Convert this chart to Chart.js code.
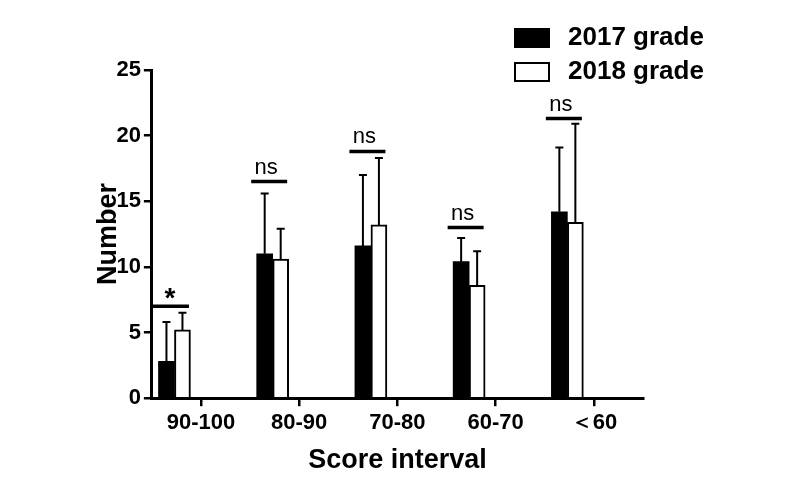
<!DOCTYPE html>
<html>
<head>
<meta charset="utf-8">
<script src="https://cdn.jsdelivr.net/npm/chart.js@4"></script>
<style>
  html, body { margin: 0; background: #fff; }
  #wrap { width: 800px; height: 497px; }
</style>
</head>
<body>
<div id="wrap"><canvas id="chart"></canvas></div>
<script>
const categories = ['90-100', '80-90', '70-80', '60-70', '＜60'];
const seriesNames = ['2017 grade', '2018 grade'];
const mean2017 = [2.8, 11.0, 11.6, 10.4, 14.2];
const sd2017 = [3.0, 4.6, 5.4, 1.8, 4.9];
const mean2018 = [5.2, 10.6, 13.2, 8.6, 13.4];
const sd2018 = [1.3, 2.3, 5.1, 2.6, 7.5];
const sigLevels = [7.0, 16.5, 18.8, 13.0, 21.3];
const sigLabels = ['*', 'ns', 'ns', 'ns', 'ns'];

const FONT = "'Liberation Sans', Arial, sans-serif";
const GROUP_SHIFT = -0.27; // the bar pair sits left of its tick, as in the original

Chart.defaults.color = '#000';
Chart.defaults.font.family = FONT;

// upward-only error bars with a cap
const errorBars = {
    id: 'errorBars',
    afterDatasetsDraw(chart) {
        const ctx = chart.ctx;
        const y = chart.scales.y;
        ctx.save();
        ctx.strokeStyle = '#000';
        ctx.lineWidth = 2;
        chart.data.datasets.forEach((ds, d) => {
            chart.getDatasetMeta(d).data.forEach((bar, i) => {
                const top = y.getPixelForValue(ds.data[i].y + ds.errors[i]);
                ctx.beginPath();
                ctx.moveTo(bar.x, bar.y);
                ctx.lineTo(bar.x, top);
                ctx.moveTo(bar.x - 4, top);
                ctx.lineTo(bar.x + 4, top);
                ctx.stroke();
            });
        });
        ctx.restore();
    }
};

// significance bars with "*" / "ns" above each pair
const sigMarks = {
    id: 'sigMarks',
    afterDatasetsDraw(chart) {
        const ctx = chart.ctx;
        const y = chart.scales.y;
        const a = chart.getDatasetMeta(0).data;
        const b = chart.getDatasetMeta(1).data;
        ctx.save();
        ctx.strokeStyle = '#000';
        ctx.fillStyle = '#000';
        ctx.lineWidth = 3.5;
        ctx.textAlign = 'center';
        sigLevels.forEach((lvl, i) => {
            const left = a[i].x - a[i].width / 2;
            const right = b[i].x + b[i].width / 2;
            const cx = (left + right) / 2 - 3.5;
            const ly = y.getPixelForValue(lvl);
            ctx.beginPath();
            ctx.moveTo(cx - 18, ly);
            ctx.lineTo(cx + 18, ly);
            ctx.stroke();
            if (sigLabels[i] === '*') {
                ctx.font = 'bold 28px ' + FONT;
                ctx.fillText('*', cx - 1, ly + 1);
            } else {
                ctx.font = '22px ' + FONT;
                ctx.fillText(sigLabels[i], cx - 3, ly - 8);
            }
        });
        ctx.restore();
    }
};

// two-row legend in the top right corner
const stackedLegend = {
    id: 'stackedLegend',
    afterDraw(chart) {
        const ctx = chart.ctx;
        ctx.save();
        ctx.font = 'bold 26px ' + FONT;
        ctx.textBaseline = 'middle';
        chart.data.datasets.forEach((ds, d) => {
            const top = 28 + d * 34;
            ctx.fillStyle = ds.borderColor;
            ctx.fillRect(514, top, 36, 20);
            if (ds.backgroundColor !== ds.borderColor) {
                ctx.fillStyle = ds.backgroundColor;
                ctx.fillRect(516, top + 2, 32, 16);
            }
            ctx.fillStyle = '#000';
            ctx.fillText(ds.label, 568, top + 10);
        });
        ctx.restore();
    }
};

const toPoints = values => values.map((v, i) => ({ x: i + GROUP_SHIFT, y: v }));

new Chart(document.getElementById('chart'), {
    type: 'bar',
    data: {
        datasets: [
            { label: seriesNames[0], data: toPoints(mean2017), errors: sd2017,
              backgroundColor: '#000', borderColor: '#000', borderWidth: 0 },
            { label: seriesNames[1], data: toPoints(mean2018), errors: sd2018,
              backgroundColor: '#fff', borderColor: '#000', borderWidth: 2 }
        ]
    },
    options: {
        responsive: true,
        maintainAspectRatio: false,
        animation: false,
        devicePixelRatio: 1,
        barThickness: 16,
        layout: { padding: { left: 92, right: 157, top: 70, bottom: 16 } },
        plugins: { legend: { display: false }, tooltip: { enabled: false } },
        scales: {
            x: {
                type: 'linear',
                min: -0.5,
                max: 4.5,
                offset: false,
                z: 1,
                afterBuildTicks: s => { s.ticks = categories.map((_, i) => ({ value: i })); },
                grid: { offset: false, drawOnChartArea: false, drawTicks: true, tickLength: 8, lineWidth: 2.5, color: '#000' },
                border: { display: true, width: 3, color: '#000' },
                ticks: { callback: v => categories[v] ?? '', font: { size: 22, weight: 'bold' }, padding: 4, maxRotation: 0, autoSkip: false },
                title: { display: true, text: 'Score interval', font: { size: 27, weight: 'bold' }, padding: { top: 4, bottom: 4 } }
            },
            y: {
                min: 0,
                max: 25,
                ticks: { stepSize: 5, font: { size: 22, weight: 'bold' }, padding: 3 },
                grid: { drawOnChartArea: false, drawTicks: true, tickLength: 8, lineWidth: 2.5, color: '#000' },
                border: { display: true, width: 3, color: '#000' },
                title: { display: true, text: 'Number', font: { size: 27, weight: 'bold' }, padding: { top: 0, bottom: -11 } }
            }
        }
    },
    plugins: [errorBars, sigMarks, stackedLegend]
});
</script>
</body>
</html>
